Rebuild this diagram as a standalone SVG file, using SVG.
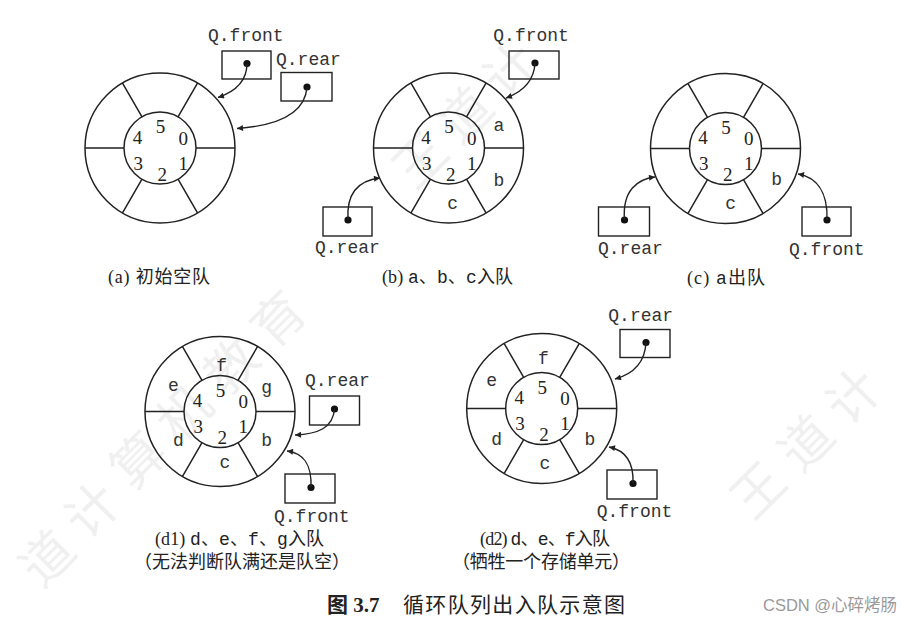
<svg xmlns="http://www.w3.org/2000/svg" xmlns:xlink="http://www.w3.org/1999/xlink" width="913" height="625" viewBox="0 0 913 625">
<style>
.ln{fill:none;stroke:#222;stroke-width:1.5}
.bx{fill:none;stroke:#222;stroke-width:1.4}
.dig{font-family:"Liberation Serif","Times New Roman",serif;font-size:19px;fill:#222;text-anchor:middle}
.let{font-family:"Liberation Mono","Courier New",monospace;font-size:18px;fill:#333;text-anchor:middle}
.lab{font-family:"Liberation Mono","Courier New",monospace;font-size:18px;fill:#333}
.cap{font-family:"Liberation Serif","Noto Sans CJK SC",serif;font-size:18px;fill:#222}
.capm{font-family:"Liberation Mono","Noto Sans CJK SC",monospace}
.fig{font-family:"Liberation Serif","Noto Sans CJK SC",serif;font-size:21px;fill:#222}
.wm{font-family:"Noto Sans CJK SC",sans-serif;font-size:52px;fill:#000;opacity:0.055;text-anchor:middle}
.arr{fill:none;stroke:#222;stroke-width:1.4;marker-end:url(#ah)}
</style>
<defs>
<marker id="ah" viewBox="0 0 10 10" refX="10" refY="5" markerWidth="8" markerHeight="6" markerUnits="userSpaceOnUse" orient="auto">
<path d="M0,0 L10,5 L0,10 Z" fill="#222"/>
</marker>
<g id="ring">
<circle class="ln" cx="0" cy="0" r="75"/>
<circle class="ln" cx="0" cy="0" r="36"/>
<path class="ln" d="M36,0H75M-36,0H-75M18,31.18L37.5,64.95M-18,31.18L-37.5,64.95M18,-31.18L37.5,-64.95M-18,-31.18L-37.5,-64.95"/>
<text class="dig" x="0.5" y="-15">5</text>
<text class="dig" x="-22.5" y="-4.5">4</text>
<text class="dig" x="23.3" y="-3.5">0</text>
<text class="dig" x="-21.7" y="21.5">3</text>
<text class="dig" x="23.3" y="21.5">1</text>
<text class="dig" x="2.3" y="32.5">2</text>
</g>
<circle id="dot" cx="0" cy="0" r="3.6" fill="#111"/>
</defs>
<rect width="913" height="625" fill="#fff"/>
<g id="watermarks">
<text class="wm" x="47" y="577" transform="rotate(-45 47 558)">道</text>
<text class="wm" x="92" y="529" transform="rotate(-45 92 510)">计</text>
<text class="wm" x="138" y="479" transform="rotate(-45 138 460)">算</text>
<text class="wm" x="184" y="432" transform="rotate(-45 184 413)">机</text>
<text class="wm" x="231" y="385" transform="rotate(-45 231 366)">教</text>
<text class="wm" x="278" y="338" transform="rotate(-45 278 319)">育</text>
<text class="wm" x="420" y="179" transform="rotate(-45 420 160)">王</text>
<text class="wm" x="465" y="134" transform="rotate(-45 465 115)">道</text>
<text class="wm" x="510" y="89" transform="rotate(-45 510 70)">计</text>
<text class="wm" x="758" y="509" transform="rotate(-45 758 490)">王</text>
<text class="wm" x="806" y="462" transform="rotate(-45 806 443)">道</text>
<text class="wm" x="853" y="415" transform="rotate(-45 853 396)">计</text>
</g>

<g id="queue-a">
<use xlink:href="#ring" x="160" y="148"/>
<text class="cap" x="108" y="283" textLength="102">(a) 初始空队</text>
</g>
<g id="a-front">
<text class="lab" x="208" y="40.5">Q.front</text>
<rect class="bx" x="222" y="51" width="49" height="28"/>
<use xlink:href="#dot" x="247" y="63.5"/>
</g>
<g id="a-rear">
<text class="lab" x="276" y="65">Q.rear</text>
<rect class="bx" x="281" y="72.5" width="51" height="28.5"/>
<use xlink:href="#dot" x="307" y="87"/>
</g>

<g id="queue-b">
<use xlink:href="#ring" x="448.5" y="148"/>
<text class="let" x="499" y="131">a</text>
<text class="let" x="499" y="185.5">b</text>
<text class="let" x="452.7" y="209">c</text>
<text class="cap" x="382" y="283" textLength="131">(b) <tspan class="capm">a、b、c</tspan>入队</text>
</g>
<g id="b-front">
<text class="lab" x="493.3" y="40.5">Q.front</text>
<rect class="bx" x="509" y="51" width="50" height="28"/>
<use xlink:href="#dot" x="535" y="63"/>
</g>
<g id="b-rear">
<text class="lab" x="315" y="253">Q.rear</text>
<rect class="bx" x="323" y="207" width="49" height="29"/>
<use xlink:href="#dot" x="348" y="220"/>
</g>

<g id="queue-c">
<use xlink:href="#ring" x="725.5" y="148.5"/>
<text class="let" x="776.7" y="184.5">b</text>
<text class="let" x="730.7" y="209">c</text>
<text class="cap" x="687" y="284" textLength="78">(c) <tspan class="capm">a</tspan>出队</text>
</g>
<g id="c-rear">
<text class="lab" x="598" y="254">Q.rear</text>
<rect class="bx" x="598.5" y="207" width="51" height="29"/>
<use xlink:href="#dot" x="624.5" y="220"/>
</g>
<g id="c-front">
<text class="lab" x="789" y="255">Q.front</text>
<rect class="bx" x="802" y="207" width="49" height="29"/>
<use xlink:href="#dot" x="827" y="220"/>
</g>

<g id="queue-d1">
<use xlink:href="#ring" x="220" y="411.5"/>
<text class="let" x="221.7" y="371">f</text>
<text class="let" x="266.7" y="392.5">g</text>
<text class="let" x="173.3" y="391.3">e</text>
<text class="let" x="178.3" y="446">d</text>
<text class="let" x="266.7" y="446">b</text>
<text class="let" x="225" y="468">c</text>
<text class="cap" x="155" y="545" textLength="169">(d1) <tspan class="capm">d、e、f、g</tspan>入队</text>
<text class="cap" x="134" y="568" textLength="216">（无法判断队满还是队空）</text>
</g>
<g id="d1-rear">
<text class="lab" x="305" y="385.5">Q.rear</text>
<rect class="bx" x="309.5" y="396" width="50" height="29"/>
<use xlink:href="#dot" x="334.5" y="409"/>
</g>
<g id="d1-front">
<text class="lab" x="274" y="522">Q.front</text>
<rect class="bx" x="285" y="474" width="50" height="29"/>
<use xlink:href="#dot" x="311" y="487.5"/>
</g>

<g id="queue-d2">
<use xlink:href="#ring" x="541.7" y="408.5"/>
<text class="let" x="543.3" y="364">f</text>
<text class="let" x="491.7" y="385.7">e</text>
<text class="let" x="496.7" y="445">d</text>
<text class="let" x="590" y="445">b</text>
<text class="let" x="545" y="469">c</text>
<text class="cap" x="480" y="545" textLength="130">(d2) <tspan class="capm">d、e、f</tspan>入队</text>
<text class="cap" x="452" y="568" textLength="178">（牺牲一个存储单元）</text>
</g>
<g id="d2-rear">
<text class="lab" x="608.3" y="320.5">Q.rear</text>
<rect class="bx" x="620" y="329.5" width="50" height="28"/>
<use xlink:href="#dot" x="646" y="342.5"/>
</g>
<g id="d2-front">
<text class="lab" x="596.7" y="517">Q.front</text>
<rect class="bx" x="607" y="470" width="50" height="29"/>
<use xlink:href="#dot" x="633" y="483.5"/>
</g>

<g id="connectors">
<path class="arr" d="M247,63.5 C247,82 234,92 218,97.5"/>
<path class="arr" d="M307,87 C305,116 272,126 237,128.5"/>
<path class="arr" d="M535,63 C534,82 522,92 506,98"/>
<path class="arr" d="M348,220 C346,190 362,180 380,178"/>
<path class="arr" d="M624.5,220 C622,190 638,179 655,177"/>
<path class="arr" d="M827,220 C828,190 815,177 798,174"/>
<path class="arr" d="M334.5,409 C333,428 318,434 295,435"/>
<path class="arr" d="M311,487.5 C312,462 302,453 287,451"/>
<path class="arr" d="M646,342.5 C645,362 633,374 615,379"/>
<path class="arr" d="M633,483.5 C634,460 624,450 609,447"/>
</g>

<g id="figure-caption">
<text class="fig" x="327" y="612"><tspan font-weight="bold">图 3.7</tspan></text>
<text class="fig" x="403" y="612" textLength="222">循环队列出入队示意图</text>
<text x="763" y="611" font-family="'Liberation Sans','Noto Sans CJK SC',sans-serif" font-size="16.5" fill="#999">CSDN @心碎烤肠</text>
</g>
</svg>
